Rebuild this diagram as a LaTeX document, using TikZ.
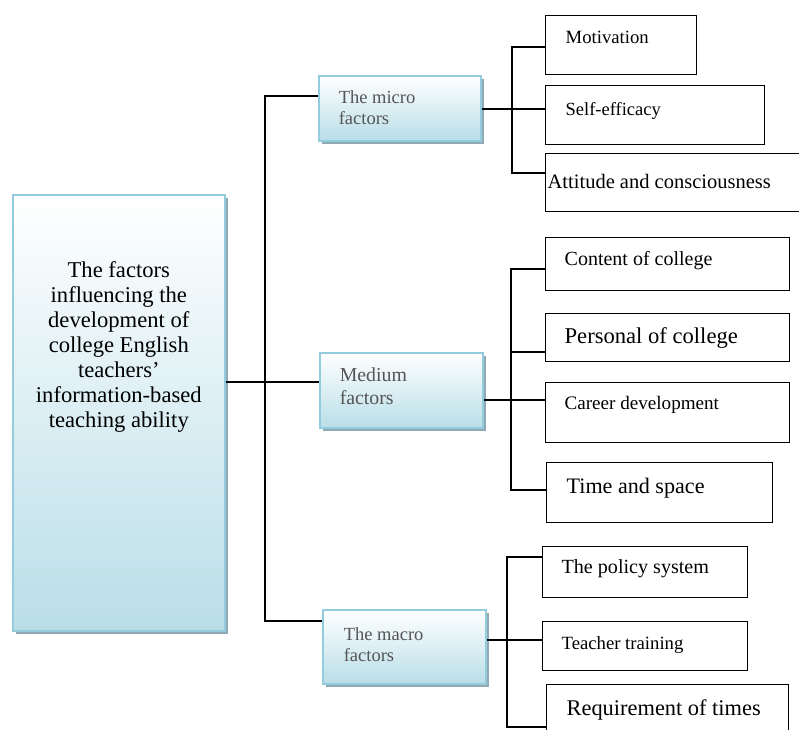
\documentclass[tikz,border=0pt]{standalone}
\usepackage{fontspec}
\setmainfont{Liberation Serif}
\usetikzlibrary{shadows}
\definecolor{edgeblue}{HTML}{93CDDD}
\definecolor{fillblue}{HTML}{B9DEE8}
\definecolor{shadowgray}{HTML}{8FAAB2}
\definecolor{midgray}{HTML}{555555}
\newcommand{\fs}[2]{\fontsize{#1}{#2}\selectfont}
\begin{document}
\begin{tikzpicture}[x=1pt,y=-1pt,
  factor/.style={draw=edgeblue, line width=1.6pt, top color=white, bottom color=fillblue,
    drop shadow={shadow xshift=3.5pt, shadow yshift=-3.5pt, fill=shadowgray, opacity=1},
    anchor=north west, inner ysep=0pt},
  leaf/.style={draw, line width=1.3pt, anchor=north west, inner ysep=0pt, align=flush left},
  link/.style={line width=1.3pt}]
\useasboundingbox (0,0) rectangle (799,729);
\node[factor, inner xsep=4pt, text width=204pt, align=flush center, text height=83pt, text depth=353pt,
  font=\fs{22.6}{25}] (main) at (12,194)
  {The factors\\influencing the\\development of\\college English\\teachers'\\information-based\\teaching ability};
\node[factor, inner xsep=20pt, text width=122pt, align=flush left, text height=28pt, text depth=37pt,
  font=\fs{18.5}{21}, text=midgray] (micro) at (318,75) {The micro\\factors};
\node[factor, inner xsep=20pt, text width=123pt, align=flush left, text height=29pt, text depth=46pt,
  font=\fs{19.8}{23}, text=midgray] (medium) at (319,352) {Medium\\factors};
\node[factor, inner xsep=21pt, text width=121pt, align=flush left, text height=31pt, text depth=43pt,
  font=\fs{18.5}{21}, text=midgray] (macro) at (322,609) {The macro\\factors};
\node[leaf, inner xsep=20pt, text width=111pt, text height=28pt, text depth=31pt, font=\fs{18.7}{22}] (motiv) at (545,15) {Motivation};
\node[leaf, inner xsep=20pt, text width=179pt, text height=30pt, text depth=29pt, font=\fs{18.5}{22}] (selfeff) at (545,85) {Self-efficacy};
\node[leaf, inner xsep=2pt, text width=266pt, text height=35pt, text depth=23pt, font=\fs{20.5}{24}] (attitude) at (545,153) {Attitude and consciousness};
\node[leaf, inner xsep=19pt, text width=206pt, text height=28pt, text depth=25pt, font=\fs{20}{24}] (content) at (545,237) {Content of college};
\node[leaf, inner xsep=19pt, text width=206pt, text height=30pt, text depth=18pt, font=\fs{22.6}{26}] (personal) at (545,313) {Personal of college};
\node[leaf, inner xsep=19pt, text width=206pt, text height=27pt, text depth=33pt, font=\fs{19.1}{23}] (career) at (545,382) {Career development};
\node[leaf, inner xsep=20pt, text width=186pt, text height=31pt, text depth=29pt, font=\fs{22.1}{26}] (timesp) at (546,462) {Time and space};
\node[leaf, inner xsep=19pt, text width=167pt, text height=27pt, text depth=24pt, font=\fs{20.1}{24}] (policy) at (542,546) {The policy system};
\node[leaf, inner xsep=19pt, text width=167pt, text height=28pt, text depth=21pt, font=\fs{18.7}{22}] (training) at (542,621) {Teacher training};
\node[leaf, inner xsep=20pt, text width=202pt, text height=31pt, text depth=40pt, font=\fs{22.4}{26}] (require) at (546,684) {Requirement of times};
\coordinate (ttop) at (265,96);
\coordinate (tmid) at (265,382);
\coordinate (tbot) at (265,621);
\draw[link] (micro.west |- ttop) -- (ttop) -- (tbot) -- (macro.west |- tbot);
\draw[link] (main.east |- tmid) -- (medium.west |- tmid);
\coordinate (ua) at (512,47);
\coordinate (ub) at (512,109);
\coordinate (uc) at (512,173);
\draw[link] (motiv.west |- ua) -- (ua) -- (uc) -- (attitude.west |- uc);
\draw[link] (micro.east |- ub) -- (selfeff.west |- ub);
\coordinate (ma) at (511,269);
\coordinate (mb) at (511,352);
\coordinate (mc) at (511,400);
\coordinate (md) at (511,490);
\draw[link] (content.west |- ma) -- (ma) -- (md) -- (timesp.west |- md);
\draw[link] (mb) -- (personal.west |- mb);
\draw[link] (medium.east |- mc) -- (career.west |- mc);
\coordinate (aa) at (507,557);
\coordinate (ab) at (507,640);
\coordinate (ac) at (507,727);
\draw[link] (policy.west |- aa) -- (aa) -- (ac) -- (require.west |- ac);
\draw[link] (macro.east |- ab) -- (training.west |- ab);
\end{tikzpicture}
\end{document}
